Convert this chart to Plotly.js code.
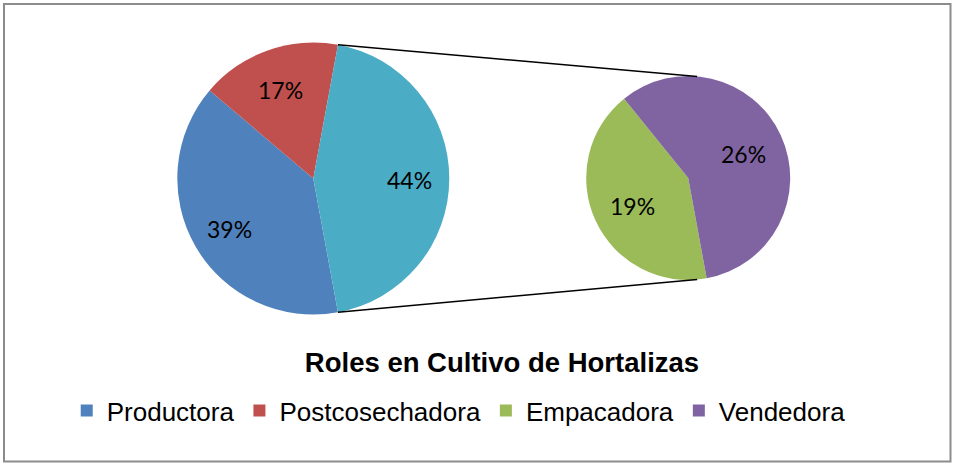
<!DOCTYPE html>
<html>
<head>
<meta charset="utf-8">
<script src="https://cdn.plot.ly/plotly-3.0.1.min.js"></script>
<style>html,body{margin:0;padding:0;background:#fff;}</style>
</head>
<body>
<div id="chart" style="width:953px;height:464px;"></div>
<script>
// ---- Data ----
const categories = ["Productora", "Postcosechadora", "Empacadora", "Vendedora"];
const shares = [39.1, 16.7, 18.6, 25.6];          // % of all roles
const sliceColors = ["#4F81BD", "#C0504D", "#9BBB59", "#8064A2"];
const otherColor = "#4BACC6";                      // "other" slice of the main pie
const chartTitle = "Roles en Cultivo de Hortalizas";

// ---- Layout geometry (pixels) ----
const W = 953, H = 464;
const mainPie = {cx: 313.3, cy: 178.5, r: 136, labelR: 0.71};
const secPie = {cx: 688.2, cy: 178, r: 102, labelR: 0.6};

const total = shares.reduce((a, b) => a + b, 0);
const otherShare = shares[2] + shares[3];
const pct = v => Math.round(v) + "%";

function domainOf(g) {
  return {x: [(g.cx - g.r) / W, (g.cx + g.r) / W],
          y: [1 - (g.cy + g.r) / H, 1 - (g.cy - g.r) / H]};
}
function polar(g, angDeg, f) {      // angle clockwise from 12 o'clock
  const a = angDeg * Math.PI / 180;
  return [g.cx + f * g.r * Math.sin(a), g.cy - f * g.r * Math.cos(a)];
}
const px = x => x / W, py = y => 1 - y / H;

// the "other" slice of the main pie is centred on 3 o'clock
const otherHalf = 180 * otherShare / total;
const startAngle = 90 + otherHalf;   // first slice starts at the lower edge of "other"

// secondary pie listed first so its legend colours win; legendrank orders the legend
const secTrace = {
  type: "pie",
  labels: [categories[2], categories[3]],
  values: [shares[2], shares[3]],
  textinfo: "none",
  marker: {colors: [sliceColors[2], sliceColors[3]], line: {width: 0}},
  sort: false,
  direction: "clockwise",
  rotation: startAngle,
  domain: domainOf(secPie),
  legendrank: 2,
  hoverinfo: "label+percent"
};

const mainTrace = {
  type: "pie",
  // third slice = Empacadora + Vendedora; it shares a label with the
  // secondary pie so that it does not get its own legend entry
  labels: [categories[0], categories[1], categories[2]],
  values: [shares[0], shares[1], otherShare],
  textinfo: "none",
  marker: {colors: [sliceColors[0], sliceColors[1], otherColor], line: {width: 0}},
  sort: false,
  direction: "clockwise",
  rotation: startAngle,
  domain: domainOf(mainPie),
  legendrank: 1,
  hoverinfo: "percent"
};

// percentage labels placed on each slice's mid-angle
function sliceLabels(g, vals) {
  const sum = vals.reduce((a, b) => a + b, 0);
  let ang = startAngle;
  return vals.map(v => {
    const span = 360 * v / sum;
    const p = polar(g, ang + span / 2, g.labelR);
    ang += span;
    return {
      text: pct(v), xref: "paper", yref: "paper",
      x: px(p[0]), y: py(p[1] + 2), xanchor: "center", yanchor: "middle",
      showarrow: false,
      font: {family: "Lato, 'Open Sans', sans-serif", size: 23, color: "#000"}
    };
  });
}
const annotations = sliceLabels(mainPie, mainTrace.values)
  .concat(sliceLabels(secPie, secTrace.values));

const mTop = polar(mainPie, 90 - otherHalf, 1);
const mBot = polar(mainPie, 90 + otherHalf, 1);
const sTop = polar(secPie, 5, 1);
const sBot = polar(secPie, 175, 1);

const shapes = [
  {type: "line", xref: "paper", yref: "paper",
   x0: px(mTop[0]), y0: py(mTop[1]), x1: px(sTop[0]), y1: py(sTop[1]),
   line: {color: "#000", width: 1.5}},
  {type: "line", xref: "paper", yref: "paper",
   x0: px(mBot[0]), y0: py(mBot[1]), x1: px(sBot[0]), y1: py(sBot[1]),
   line: {color: "#000", width: 1.5}},
  {type: "rect", xref: "paper", yref: "paper",
   x0: px(4), y0: py(461.5), x1: px(950.5), y1: py(4),
   line: {color: "#8c8c8c", width: 2}, fillcolor: "rgba(0,0,0,0)"}
];

const layout = {
  width: W, height: H,
  margin: {l: 0, r: 0, t: 0, b: 0},
  paper_bgcolor: "#fff",
  plot_bgcolor: "#fff",
  title: {
    text: "<b>" + chartTitle + "</b>",
    font: {family: "'Liberation Sans', Arial, sans-serif", size: 27.5, color: "#000"},
    x: 502 / W, xanchor: "center",
    y: 1 - 362 / H, yanchor: "middle"
  },
  showlegend: true,
  legend: {
    orientation: "h",
    x: 0.07, xanchor: "left",
    y: 1 - 410.7 / H, yanchor: "middle",
    font: {family: "'Liberation Sans', Arial, sans-serif", size: 26, color: "#000"},
    bgcolor: "rgba(0,0,0,0)",
    itemwidth: 30
  },
  annotations: annotations,
  shapes: shapes
};

Plotly.newPlot("chart", [secTrace, mainTrace], layout, {displayModeBar: false, staticPlot: true});
</script>
</body>
</html>
